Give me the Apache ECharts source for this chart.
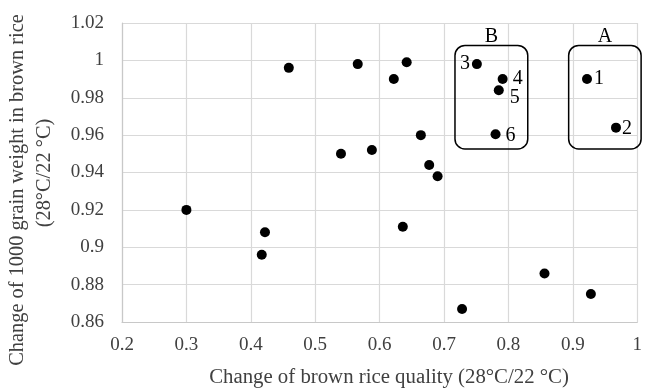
<!DOCTYPE html>
<html>
<head>
<meta charset="utf-8">
<script src="https://cdn.jsdelivr.net/npm/echarts@6/dist/echarts.min.js"></script>
<style>
  html, body { margin: 0; padding: 0; background: #fff; }
  #chart { width: 645px; height: 390px; }
</style>
</head>
<body>
<div id="chart"></div>
<script>
// Quality change vs. grain weight change for each variety (28°C / 22°C)
const qualityChange = [0.459, 0.566, 0.642, 0.622, 0.751, 0.791, 0.785, 0.780, 0.922, 0.967,
                       0.664, 0.540, 0.588, 0.677, 0.690, 0.300, 0.422, 0.417, 0.636, 0.856, 0.928, 0.728];
const weightChange  = [0.996, 0.998, 0.999, 0.990, 0.998, 0.990, 0.984, 0.9605, 0.990, 0.964,
                       0.960, 0.950, 0.952, 0.944, 0.938, 0.920, 0.908, 0.896, 0.911, 0.886, 0.875, 0.867];
const pointNames    = ['', '', '', '', '3', '4', '5', '6', '1', '2',
                       '', '', '', '', '', '', '', '', '', '', '', ''];

// Group boxes: [xMin, xMax, yMin, yMax, name]
const groupBoxes = [
  [0.717, 0.830, 0.9526, 1.008, 'B'],
  [0.8935, 1.006, 0.9526, 1.008, 'A']
];

const xTicks = { min: 0.2, max: 1, interval: 0.1 };
const yTicks = { min: 0.86, max: 1.02, interval: 0.02 };

const FONT = 'Liberation Serif';
const TEXT = '#404040';
const labelOffsets = {
  '1': [12, 0], '2': [11, 1], '3': [-12, 0],
  '4': [15, 0], '5': [16, 7], '6': [15, 2]
};

const points = qualityChange.map((x, i) => {
  const name = pointNames[i];
  const item = { value: [x, weightChange[i]] };
  if (name) {
    item.label = {
      show: true, formatter: name, position: 'inside',
      offset: labelOffsets[name], color: '#000',
      fontFamily: FONT, fontSize: 20
    };
  }
  return item;
});

const chart = echarts.init(document.getElementById('chart'));
chart.setOption({
  animation: false,
  backgroundColor: '#fff',
  grid: { left: 122, right: 5, top: 23, bottom: 68 },
  xAxis: {
    type: 'value', min: xTicks.min, max: xTicks.max, interval: xTicks.interval,
    axisLine: { lineStyle: { color: '#c8c8c8', width: 1.2 } },
    axisTick: { show: false },
    splitLine: { show: true, lineStyle: { color: '#d9d9d9', width: 1.2 } },
    axisLabel: {
      color: TEXT, fontFamily: FONT, fontSize: 19, margin: 14,
      formatter: v => String(Math.round(v * 10) / 10)
    }
  },
  yAxis: {
    type: 'value', min: yTicks.min, max: yTicks.max, interval: yTicks.interval,
    axisLine: { show: true, lineStyle: { color: '#c8c8c8', width: 1.2 } },
    axisTick: { show: false },
    splitLine: { show: true, lineStyle: { color: '#d9d9d9', width: 1.2 } },
    axisLabel: {
      color: TEXT, fontFamily: FONT, fontSize: 19, margin: 18,
      formatter: v => String(Math.round(v * 100) / 100)
    }
  },
  graphic: [
    {
      type: 'text', x: 389, y: 378,
      style: {
        text: 'Change of brown rice quality (28°C/22 °C)',
        fontFamily: FONT, fontSize: 20.8, fill: TEXT,
        align: 'center', verticalAlign: 'middle'
      }
    },
    {
      type: 'text', x: 18, y: 190, rotation: Math.PI / 2,
      style: {
        text: 'Change of 1000 grain weight in brown rice',
        fontFamily: FONT, fontSize: 20.4, fill: TEXT,
        align: 'center', verticalAlign: 'middle'
      }
    },
    {
      type: 'text', x: 45, y: 173, rotation: Math.PI / 2,
      style: {
        text: '(28°C/22 °C)',
        fontFamily: FONT, fontSize: 20.4, fill: TEXT,
        align: 'center', verticalAlign: 'middle'
      }
    }
  ],
  series: [
    {
      type: 'custom',
      coordinateSystem: 'cartesian2d',
      data: groupBoxes,
      silent: true,
      clip: false,
      z: 1,
      renderItem: (params, api) => {
        const p0 = api.coord([api.value(0), api.value(3)]);
        const p1 = api.coord([api.value(1), api.value(2)]);
        const name = groupBoxes[params.dataIndex][4];
        return {
          type: 'group',
          children: [
            {
              type: 'rect',
              shape: { x: p0[0], y: p0[1], width: p1[0] - p0[0], height: p1[1] - p0[1], r: 10 },
              style: { fill: 'none', stroke: '#000', lineWidth: 1.5 }
            },
            {
              type: 'text',
              style: {
                text: name, x: (p0[0] + p1[0]) / 2, y: p0[1] - 9,
                align: 'center', verticalAlign: 'middle',
                fontFamily: FONT, fontSize: 20, fill: '#000'
              }
            }
          ]
        };
      }
    },
    {
      type: 'scatter',
      data: points,
      symbol: 'circle',
      symbolSize: 10,
      itemStyle: { color: '#000', opacity: 1 },
      z: 3
    }
  ]
});
</script>
</body>
</html>
